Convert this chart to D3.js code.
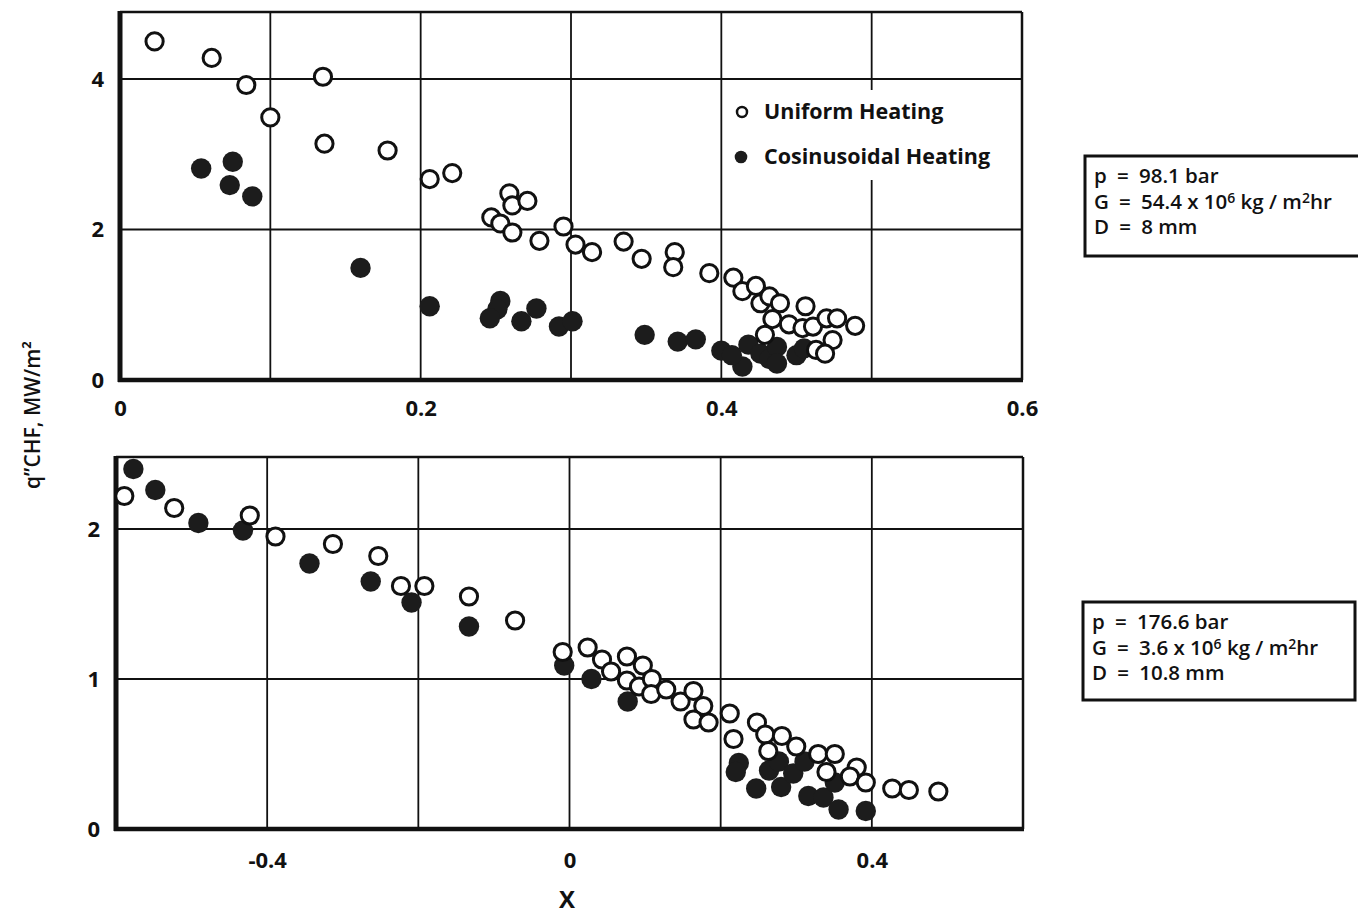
<!DOCTYPE html>
<html lang="en">
<head>
  <meta charset="UTF-8">
  <title>CHF vs quality</title>
  <style>
    body, html {
      margin: 0;
      padding: 0;
      background: #fff;
    }
    svg text {
      font-family: "Open Sans", "Noto Sans", sans-serif;
      font-weight: 700;
      fill: #111;
    }
  </style>
</head>
<body>
  <svg id="svg" width="1358" height="915"></svg>

  <script src="https://cdn.jsdelivr.net/npm/d3@7"></script>
  <script>
    // ---- data: [X, q"CHF] ----
    const topUniform = [
      [0.023, 4.50], [0.061, 4.28], [0.084, 3.92], [0.100, 3.49], [0.135, 4.03],
      [0.136, 3.14], [0.178, 3.05], [0.206, 2.67], [0.221, 2.75], [0.259, 2.48],
      [0.261, 2.32], [0.271, 2.38], [0.247, 2.16], [0.253, 2.08], [0.261, 1.96],
      [0.279, 1.85], [0.295, 2.04], [0.303, 1.80], [0.314, 1.70], [0.335, 1.84],
      [0.347, 1.61], [0.369, 1.70], [0.368, 1.50], [0.392, 1.42], [0.408, 1.36],
      [0.414, 1.18], [0.423, 1.25], [0.426, 1.02], [0.432, 1.11], [0.439, 1.02],
      [0.434, 0.81], [0.445, 0.74], [0.456, 0.98], [0.454, 0.69], [0.461, 0.71],
      [0.470, 0.82], [0.477, 0.82], [0.489, 0.72], [0.429, 0.60], [0.474, 0.53],
      [0.463, 0.40], [0.469, 0.35]
    ];
    const topCosine = [
      [0.054, 2.81], [0.075, 2.90], [0.073, 2.59], [0.088, 2.44], [0.160, 1.49],
      [0.206, 0.98], [0.253, 1.05], [0.251, 0.94], [0.246, 0.82], [0.277, 0.95],
      [0.267, 0.78], [0.292, 0.71], [0.301, 0.78], [0.349, 0.60], [0.371, 0.51],
      [0.383, 0.54], [0.400, 0.39], [0.414, 0.18], [0.407, 0.33], [0.418, 0.47],
      [0.426, 0.35], [0.432, 0.28], [0.437, 0.44], [0.437, 0.22], [0.450, 0.33],
      [0.455, 0.42]
    ];
    const bottomUniform = [
      [-0.589, 2.22], [-0.523, 2.14], [-0.423, 2.09], [-0.389, 1.95], [-0.313, 1.90],
      [-0.253, 1.82], [-0.223, 1.62], [-0.192, 1.62], [-0.133, 1.55], [-0.072, 1.39],
      [-0.009, 1.18], [0.024, 1.21], [0.043, 1.13], [0.055, 1.05], [0.076, 1.15],
      [0.076, 0.99], [0.092, 0.95], [0.097, 1.09], [0.109, 1.00], [0.108, 0.90],
      [0.128, 0.93], [0.147, 0.85], [0.164, 0.92], [0.177, 0.82], [0.164, 0.73],
      [0.184, 0.71], [0.212, 0.77], [0.217, 0.60], [0.248, 0.71], [0.259, 0.63],
      [0.281, 0.62], [0.263, 0.52], [0.300, 0.55], [0.329, 0.50], [0.351, 0.50],
      [0.340, 0.38], [0.380, 0.41], [0.371, 0.35], [0.392, 0.31], [0.427, 0.27],
      [0.449, 0.26], [0.488, 0.25]
    ];
    const bottomCosine = [
      [-0.577, 2.40], [-0.548, 2.26], [-0.491, 2.04], [-0.432, 1.99], [-0.344, 1.77],
      [-0.263, 1.65], [-0.209, 1.51], [-0.133, 1.35], [-0.007, 1.09], [0.029, 1.00],
      [0.077, 0.85], [0.224, 0.44], [0.220, 0.38], [0.247, 0.27], [0.264, 0.39],
      [0.277, 0.45], [0.280, 0.28], [0.296, 0.37], [0.311, 0.45], [0.316, 0.22],
      [0.336, 0.21], [0.351, 0.31], [0.356, 0.13], [0.392, 0.12]
    ];

    const topXTicks = [0, 0.2, 0.4, 0.6];
    const topYTicks = [0, 2, 4];
    const topXGrid = [0.1, 0.2, 0.3, 0.4, 0.5];
    const topYGrid = [2, 4];
    const bottomXTicks = [-0.4, 0, 0.4];
    const bottomYTicks = [0, 1, 2];
    const bottomXGrid = [-0.4, -0.2, 0, 0.2, 0.4];
    const bottomYGrid = [1, 2];

    const legendLabels = ['Uniform Heating', 'Cosinusoidal Heating'];
    const eq = '\u2002=\u2002';
    const topNote = [['p' + eq + '98.1 bar'], ['G' + eq + '54.4 x 10', '6', ' kg / m', '2', 'hr'], ['D' + eq + '8 mm']];
    const bottomNote = [['p' + eq + '176.6 bar'], ['G' + eq + '3.6 x 10', '6', ' kg / m', '2', 'hr'], ['D' + eq + '10.8 mm']];

    const svg = d3.select('#svg');
    const fmt = d => d === 0 ? '0' : String(d);

    function panel(opts) {
      const { x, y, top, xTicks, yTicks, xGrid, yGrid, uniform, cosine, xPad } = opts;
      const g = svg.append('g');
      const [x0, x1] = x.range();
      const y0 = y(0);

      // grid
      g.selectAll('.vg').data(xGrid).enter().append('line')
        .attr('x1', d => x(d)).attr('x2', d => x(d))
        .attr('y1', top).attr('y2', y0)
        .attr('stroke', '#111').attr('stroke-width', 1.8);
      g.selectAll('.hg').data(yGrid).enter().append('line')
        .attr('x1', x0).attr('x2', x1)
        .attr('y1', d => y(d)).attr('y2', d => y(d))
        .attr('stroke', '#111').attr('stroke-width', 1.8);

      // frame
      g.append('line').attr('x1', x0).attr('x2', x1).attr('y1', top).attr('y2', top)
        .attr('stroke', '#111').attr('stroke-width', 2.5);
      g.append('line').attr('x1', x1).attr('x2', x1).attr('y1', top).attr('y2', y0)
        .attr('stroke', '#111').attr('stroke-width', 2.5);
      g.append('line').attr('x1', x0 - 2).attr('x2', x1 + 1).attr('y1', y0).attr('y2', y0)
        .attr('stroke', '#111').attr('stroke-width', 4.5);
      g.append('line').attr('x1', x0).attr('x2', x0).attr('y1', top - 1).attr('y2', y0 + 2)
        .attr('stroke', '#111').attr('stroke-width', 5);

      // axes (labels only)
      const ax = g.append('g')
        .attr('transform', `translate(0,${y0})`)
        .call(d3.axisBottom(x).tickValues(xTicks).tickFormat(fmt).tickSize(0).tickPadding(xPad));
      const ay = g.append('g')
        .attr('transform', `translate(${x0},0)`)
        .call(d3.axisLeft(y).tickValues(yTicks).tickFormat(fmt).tickSize(0).tickPadding(16));
      [ax, ay].forEach(a => {
        a.select('.domain').remove();
        a.selectAll('text')
          .style('font-family', '"Open Sans", "Noto Sans", sans-serif')
          .style('font-weight', 700)
          .style('font-size', '22px')
          .attr('fill', '#111');
      });

      // points: solid first, open on top
      g.selectAll('.cos').data(cosine).enter().append('circle')
        .attr('cx', d => x(d[0])).attr('cy', d => y(d[1]))
        .attr('r', 10.2)
        .attr('fill', '#1c1c1c');
      g.selectAll('.uni').data(uniform).enter().append('circle')
        .attr('cx', d => x(d[0])).attr('cy', d => y(d[1]))
        .attr('r', 8.6)
        .attr('fill', '#fff')
        .attr('stroke', '#111')
        .attr('stroke-width', 3);
      return g;
    }

    const xTop = d3.scaleLinear().domain([0, 0.6]).range([120, 1022]);
    const yTop = d3.scaleLinear().domain([0, 4]).range([380, 79]);
    panel({ x: xTop, y: yTop, top: 12, xTicks: topXTicks, yTicks: topYTicks,
      xGrid: topXGrid, yGrid: topYGrid, uniform: topUniform, cosine: topCosine, xPad: 20 });

    const xBot = d3.scaleLinear().domain([-0.6, 0.6]).range([116, 1023]);
    const yBot = d3.scaleLinear().domain([0, 2]).range([829, 529]);
    panel({ x: xBot, y: yBot, top: 457, xTicks: bottomXTicks, yTicks: bottomYTicks,
      xGrid: bottomXGrid, yGrid: bottomYGrid, uniform: bottomUniform, cosine: bottomCosine, xPad: 23 });

    // legend
    const leg = svg.append('g');
    leg.append('rect').attr('x', 724).attr('y', 90).attr('width', 284).attr('height', 90).attr('fill', '#fff');
    leg.append('circle').attr('cx', 742).attr('cy', 112).attr('r', 5)
      .attr('fill', '#fff').attr('stroke', '#111').attr('stroke-width', 2.5);
    leg.append('circle').attr('cx', 741).attr('cy', 157).attr('r', 6.3).attr('fill', '#1c1c1c');
    leg.selectAll('text').data(legendLabels).enter().append('text')
      .attr('x', 764)
      .attr('y', (d, i) => i === 0 ? 119 : 164)
      .style('font-size', '21.5px')
      .text(d => d);

    // condition boxes
    function note(lines, bx, by, bw, bh, tx, ty) {
      const g = svg.append('g');
      g.append('rect').attr('x', bx).attr('y', by).attr('width', bw).attr('height', bh)
        .attr('fill', '#fff').attr('stroke', '#111').attr('stroke-width', 3);
      lines.forEach((parts, i) => {
        const t = g.append('text').attr('x', tx).attr('y', ty + i * 25.5)
          .style('font-size', '20.5px')
          .style('font-weight', 600);
        parts.forEach((p, j) => {
          const sup = parts.length > 1 && (j === 1 || j === 3);
          t.append('tspan')
            .attr('baseline-shift', sup ? '6' : null)
            .style('font-size', sup ? '14px' : null)
            .text(p);
        });
      });
    }
    note(topNote, 1085, 156, 300, 100, 1094, 183);
    note(bottomNote, 1083, 602, 272, 98, 1092, 629);

    // axis titles
    svg.append('text')
      .attr('x', 567).attr('y', 908)
      .attr('text-anchor', 'middle')
      .style('font-size', '24px')
      .text('X');
    svg.append('text')
      .attr('transform', 'translate(40,415) rotate(-90)')
      .attr('text-anchor', 'middle')
      .style('font-size', '21px')
      .style('font-weight', 600)
      .text('q”CHF, MW/m²');
  </script>
</body>
</html>
